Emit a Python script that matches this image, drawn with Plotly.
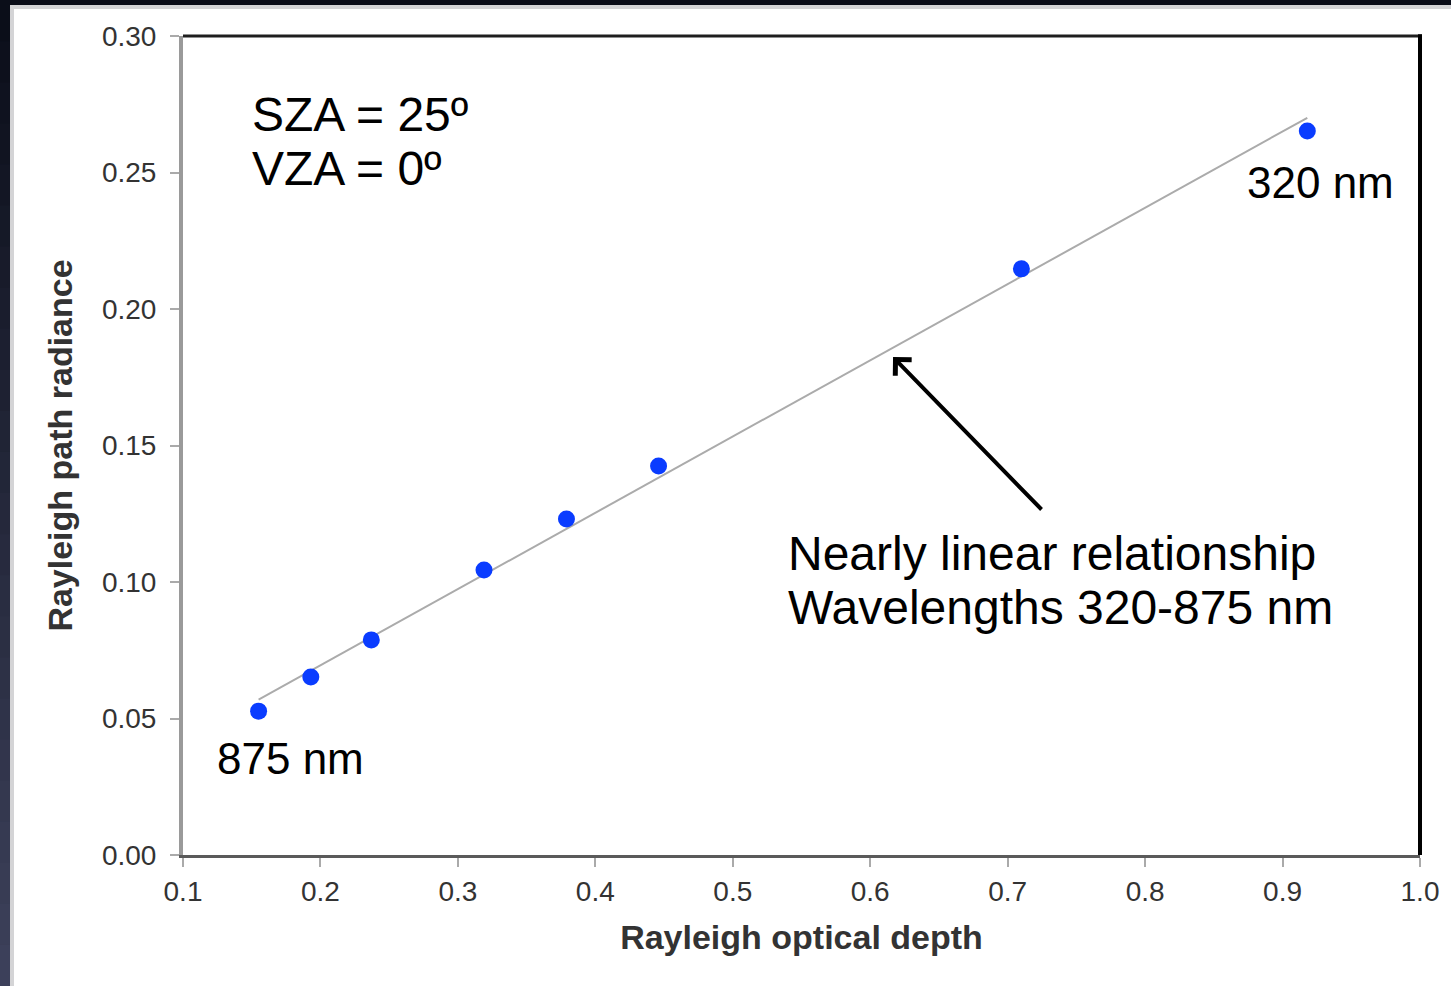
import numpy as np
import plotly.graph_objects as go

# Data
optical_depth = [0.155, 0.193, 0.237, 0.319, 0.379, 0.446, 0.710, 0.918]
path_radiance = [0.0527, 0.0652, 0.0788, 0.1044, 0.1231, 0.1425, 0.2147, 0.2652]
x_ticks = [0.1, 0.2, 0.3, 0.4, 0.5, 0.6, 0.7, 0.8, 0.9, 1.0]
y_ticks = [0.00, 0.05, 0.10, 0.15, 0.20, 0.25, 0.30]

W, H = 1451, 986
L, R, T, B = 183, 31, 36, 131
PW, PH = W - L - R, H - T - B


def px(xp):
    return (xp - L) / PW


def py(yp):
    return (H - B - yp) / PH


# Linear fit of the data (trend line)
slope, intercept = np.polyfit(optical_depth, path_radiance, 1)
fit_x = [min(optical_depth), max(optical_depth)]
fit_y = [slope * v + intercept for v in fit_x]

fig = go.Figure()
fig.add_trace(go.Scatter(x=fit_x, y=fit_y, mode="lines",
                         line=dict(color="#ababab", width=2), hoverinfo="skip",
                         showlegend=False))
fig.add_trace(go.Scatter(x=optical_depth, y=path_radiance, mode="markers",
                         marker=dict(color="#0a3cff", size=17), showlegend=False))

shapes = []
# dark frame left band (gradient approximated by slices)
n = 24
top_c = np.array([10, 13, 24])
bot_c = np.array([62, 66, 92])
for i in range(n):
    t = (i + 0.5) / n
    c = (top_c * (1 - t) + bot_c * t).astype(int)
    y0 = H * i / n
    y1 = H * (i + 1) / n + 1
    shapes.append(dict(type="rect", xref="paper", yref="paper",
                       x0=px(-5), x1=px(10), y0=py(y1), y1=py(y0),
                       fillcolor="rgb(%d,%d,%d)" % tuple(c), line=dict(width=0),
                       layer="below"))
shapes.append(dict(type="rect", xref="paper", yref="paper",
                   x0=px(10), x1=px(W + 5), y0=py(H + 5), y1=py(5),
                   fillcolor="#d4d4d6", line=dict(width=0), layer="below"))
shapes.append(dict(type="rect", xref="paper", yref="paper",
                   x0=px(14), x1=px(W + 5), y0=py(H + 5), y1=py(9),
                   fillcolor="white", line=dict(width=0), layer="below"))
# top and right black borders
shapes.append(dict(type="line", xref="paper", yref="paper", x0=0, x1=1.0015, y0=1, y1=1,
                   line=dict(color="#1e1e1e", width=3)))
shapes.append(dict(type="line", xref="paper", yref="paper", x0=1, x1=1, y0=0, y1=1.002,
                   line=dict(color="#000000", width=4)))

font_ann = dict(family="Liberation Sans, Arial, sans-serif", size=48, color="black")
font_nm = dict(family="Liberation Sans, Arial, sans-serif", size=44, color="black")
annotations = [
    dict(x=0.1487, y=0.2714, text="SZA = 25º", xanchor="left", yanchor="middle",
         showarrow=False, font=font_ann),
    dict(x=0.1487, y=0.2516, text="VZA = 0º", xanchor="left", yanchor="middle",
         showarrow=False, font=font_ann),
    dict(x=0.8727, y=0.2465, text="320 nm", xanchor="left", yanchor="middle",
         showarrow=False, font=font_nm),
    dict(x=0.1233, y=0.0352, text="875 nm", xanchor="left", yanchor="middle",
         showarrow=False, font=font_nm),
    dict(x=0.5387, y=0.1106, text="Nearly linear relationship", xanchor="left",
         yanchor="middle", showarrow=False, font=font_ann),
    dict(x=0.5387, y=0.0905, text="Wavelengths 320-875 nm", xanchor="left",
         yanchor="middle", showarrow=False, font=font_ann),
    dict(x=0.6166, y=0.1824, ax=0.7257, ay=0.126, axref="x", ayref="y",
         xref="x", yref="y", text="", showarrow=True, arrowhead=4,
         arrowsize=1.1, arrowwidth=4, arrowcolor="black", standoff=0),
]

fig.update_layout(
    width=W, height=H,
    margin=dict(l=L, r=R, t=T, b=B, pad=0),
    paper_bgcolor="#0a0d18",
    plot_bgcolor="white",
    shapes=shapes,
    annotations=annotations,
    font=dict(family="Liberation Sans, Arial, sans-serif", color="#333333"),
    xaxis=dict(range=[0.1, 1.0], tickvals=x_ticks,
               ticktext=["%.1f" % v for v in x_ticks],
               showgrid=False, zeroline=False, showline=True,
               linecolor="#5a5a5a", linewidth=3,
               ticks="outside", ticklen=9, tickwidth=2, tickcolor="#aaaaaa",
               tickfont=dict(size=28, color="#333333"),
               title=dict(text="<b>Rayleigh optical depth</b>",
                          font=dict(size=34, color="#333333"), standoff=20)),
    yaxis=dict(range=[0, 0.30], tickvals=y_ticks,
               ticktext=["%.2f" % v for v in y_ticks],
               showgrid=False, zeroline=False, showline=True,
               linecolor="#9a9a9a", linewidth=4,
               ticks="outside", ticklen=9, tickwidth=2, tickcolor="#aaaaaa",
               ticklabelstandoff=8,
               tickfont=dict(size=28, color="#333333"),
               title=dict(text="<b>Rayleigh path radiance</b>",
                          font=dict(size=34, color="#333333"), standoff=20)),
)

fig.write_html("out.html",
               config={"displayModeBar": False},
               post_script="document.body.style.margin='0px';"
                           "document.body.style.overflow='hidden';")
